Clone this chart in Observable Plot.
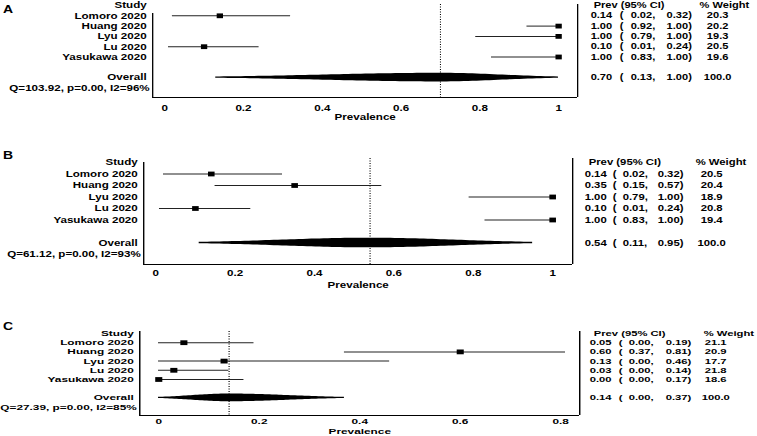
<!DOCTYPE html>
<html><head><meta charset="utf-8">
<script src="https://cdn.jsdelivr.net/npm/d3@7"></script>
<script src="https://cdn.jsdelivr.net/npm/@observablehq/plot@0.6"></script>
<style>
body{margin:0;background:#fff;}
#wrap{position:relative;width:757px;height:436px;overflow:hidden;background:#fff;font-family:"Liberation Sans",Arial,Helvetica,sans-serif;color:#000;}
.panel{position:absolute;left:0;transform-origin:0 0;}
.tag{position:absolute;left:3px;font-weight:bold;font-size:11px;line-height:11px;transform:scaleX(1.27);transform-origin:0 0;}
</style></head><body>
<div id="wrap"></div>
<script>
// ---- data ----
const studies = ["Lomoro 2020", "Huang 2020", "Lyu 2020", "Lu 2020", "Yasukawa 2020"];

const prevA   = [0.14, 1.00, 1.00, 0.10, 1.00];
const lowA    = [0.02, 0.92, 0.79, 0.01, 0.83];
const highA   = [0.32, 1.00, 1.00, 0.24, 1.00];
const weightA = [20.3, 20.2, 19.3, 20.5, 19.6];
const overallA = [0.70, 0.13, 1.00, 100.0];
const statA = "Q=103.92, p=0.00, I2=96%";

const prevB   = [0.14, 0.35, 1.00, 0.10, 1.00];
const lowB    = [0.02, 0.15, 0.79, 0.01, 0.83];
const highB   = [0.32, 0.57, 1.00, 0.24, 1.00];
const weightB = [20.5, 20.4, 18.9, 20.8, 19.4];
const overallB = [0.54, 0.11, 0.95, 100.0];
const statB = "Q=61.12, p=0.00, I2=93%";

const prevC   = [0.05, 0.60, 0.13, 0.03, 0.00];
const lowC    = [0.00, 0.37, 0.00, 0.00, 0.00];
const highC   = [0.19, 0.81, 0.46, 0.14, 0.17];
const weightC = [21.1, 20.9, 17.7, 21.8, 18.6];
const overallC = [0.14, 0.00, 0.37, 100.0];
const statC = "Q=27.39, p=0.00, I2=85%";

const ticksAB = [0, 0.2, 0.4, 0.6, 0.8, 1];
const ticksC  = [0, 0.2, 0.4, 0.6, 0.8];
const panelTags = ["A", "B", "C"];

// ---- layout (final-picture pixels; sx = horizontal stretch of the panel) ----
const layouts = [
  {top:0,   height:128, sx:1.32, fsL:8.8, fsN:8.4, left:152, right:577, zeroPx:164, unitPx:394, frameTop:4,   leftTop:13,  axisY:97,  row0:5,   step:10.3,
   pad:7, labDy:20, cEst:13, cParen:42, cLo:53, cHi:89, hPrev:16, hW:122, cW:140, tagTop:4},
  {top:130, height:160, sx:1.38, fsL:8.4, fsN:8.2, left:143, right:572, zeroPx:155, unitPx:397, frameTop:158, leftTop:162, axisY:264, row0:162, step:11.5,
   pad:6, labDy:21, cEst:12, cParen:40, cLo:50, cHi:85, hPrev:16, hW:123, cW:139, tagTop:150},
  {top:290, height:146, sx:1.48, fsL:8.0, fsN:7.6, left:139, right:579, zeroPx:158, unitPx:502.5, frameTop:331, leftTop:331, axisY:415, row0:333, step:9.2,
   pad:3, labDy:16, cEst:10, cParen:39, cLo:49, cHi:86, hPrev:14, hW:124, cW:136, tagTop:321}
];

const f2 = d3.format(".2f"), f1 = d3.format(".1f");
const FONT = "Liberation Sans, Arial, Helvetica, sans-serif";

// shape of the pooled-estimate marker, from its lower bound, estimate and upper bound
function spindle(lo, est, hi, row, H) {
  const n = 80, pts = [];
  for (let i = 0; i <= n; i++) {
    const x = lo + (hi - lo) * i / n;
    const t = x < est ? (x - est) / (est - lo) : (x - est) / (hi - est);
    const h = H * Math.exp(-Math.pow(1.96 * t, 2) / 2);
    pts.push({x, y1: row - h, y2: row + h});
  }
  return pts;
}

function panel(L, prev, low, high, weight, overall, stat, ticks) {
  const s = L.sx;
  const rows = studies.map((name, i) => ({name, row: i + 1, est: prev[i], lo: low[i], hi: high[i], w: weight[i]}));
  const ov = {name: "Overall", row: 7, est: overall[0], lo: overall[1], hi: overall[2], w: overall[3]};
  const all = [...rows, ov];
  const xmin = (L.left - L.zeroPx) / L.unitPx, xmax = (L.right - L.zeroPx) / L.unitPx;
  const rTop = (L.frameTop - L.row0) / L.step, rBot = (L.axisY - L.row0) / L.step;
  const rLeftTop = (L.leftTop - L.row0) / L.step;
  const T = {fontSize: L.fsL, fontWeight: "bold", fill: "#000"};
  const N = {fontSize: L.fsN, fontWeight: "bold", fill: "#000"};
  const R = {frameAnchor: "right", textAnchor: "start", ...N};
  return Plot.plot({
    width: 757 / s, height: L.height,
    marginLeft: L.left / s, marginRight: (757 - L.right) / s,
    marginTop: L.frameTop - L.top, marginBottom: L.top + L.height - L.axisY,
    style: {fontFamily: FONT, fontWeight: "bold", background: "transparent", overflow: "visible"},
    x: {domain: [xmin, xmax]},
    y: {domain: [rTop, rBot], range: [L.frameTop - L.top, L.axisY - L.top], axis: null},
    marks: [
      Plot.axisX({ticks, tickFormat: d => String(d), tickSize: 0, tickPadding: L.pad, label: null, fontSize: L.fsL, fontWeight: "bold", fill: "#000"}),
      Plot.ruleY([rBot], {stroke: "#000", strokeWidth: 1}),
      Plot.ruleX([xmin], {y1: rLeftTop, y2: rBot, stroke: "#000", strokeWidth: 1}),
      Plot.ruleX([xmax], {y1: rTop, y2: rBot, stroke: "#000", strokeWidth: 1}),
      Plot.ruleX([ov.est], {y1: rTop, y2: rBot, stroke: "#000", strokeWidth: 0.8, strokeDasharray: "1,1.5"}),
      Plot.ruleY(rows, {x1: "lo", x2: "hi", y: "row", stroke: "#222", strokeWidth: 1}),
      Plot.dot(rows, {x: "est", y: "row", symbol: "square", r: 2.7, fill: "#000", stroke: null}),
      Plot.areaY(spindle(ov.lo, ov.est, ov.hi, ov.row, 0.42), {x: "x", y1: "y1", y2: "y2", fill: "#000"}),
      // left labels
      Plot.text([{t: "Study", row: 0}, ...all.map(d => ({t: d.name, row: d.row}))],
        {y: "row", text: "t", frameAnchor: "left", textAnchor: "end", dx: -6 / s, ...T}),
      Plot.text([stat], {y: () => 8, text: d => d, frameAnchor: "left", textAnchor: "end", dx: -3 / s, ...T}),
      // right columns
      Plot.text(["Prev (95% CI)"], {y: () => 0, text: d => d, dx: L.hPrev / s, ...R}),
      Plot.text(["% Weight"], {y: () => 0, text: d => d, dx: L.hW / s, ...R}),
      Plot.text(all, {y: "row", text: d => f2(d.est), dx: L.cEst / s, ...R}),
      Plot.text(all, {y: "row", text: () => "(", dx: L.cParen / s, ...R}),
      Plot.text(all, {y: "row", text: d => f2(d.lo) + ",", dx: L.cLo / s, ...R}),
      Plot.text(all, {y: "row", text: d => f2(d.hi) + ")", dx: L.cHi / s, ...R}),
      Plot.text(all, {y: "row", text: d => f1(d.w), dx: L.cW / s, ...R, textAnchor: "middle"}),
      // x label
      Plot.text(["Prevalence"], {text: d => d, frameAnchor: "bottom", lineAnchor: "middle", dy: L.labDy, ...T})
    ]
  });
}

const wrap = document.getElementById("wrap");
const charts = [
  panel(layouts[0], prevA, lowA, highA, weightA, overallA, statA, ticksAB),
  panel(layouts[1], prevB, lowB, highB, weightB, overallB, statB, ticksAB),
  panel(layouts[2], prevC, lowC, highC, weightC, overallC, statC, ticksC)
];
charts.forEach((svg, i) => {
  const div = document.createElement("div");
  div.className = "panel";
  div.style.top = layouts[i].top + "px";
  div.style.transform = `scaleX(${layouts[i].sx})`;
  div.appendChild(svg);
  wrap.appendChild(div);
  const tag = document.createElement("div");
  tag.className = "tag";
  tag.style.top = layouts[i].tagTop + "px";
  tag.textContent = panelTags[i];
  wrap.appendChild(tag);
});
</script>
</body></html>
